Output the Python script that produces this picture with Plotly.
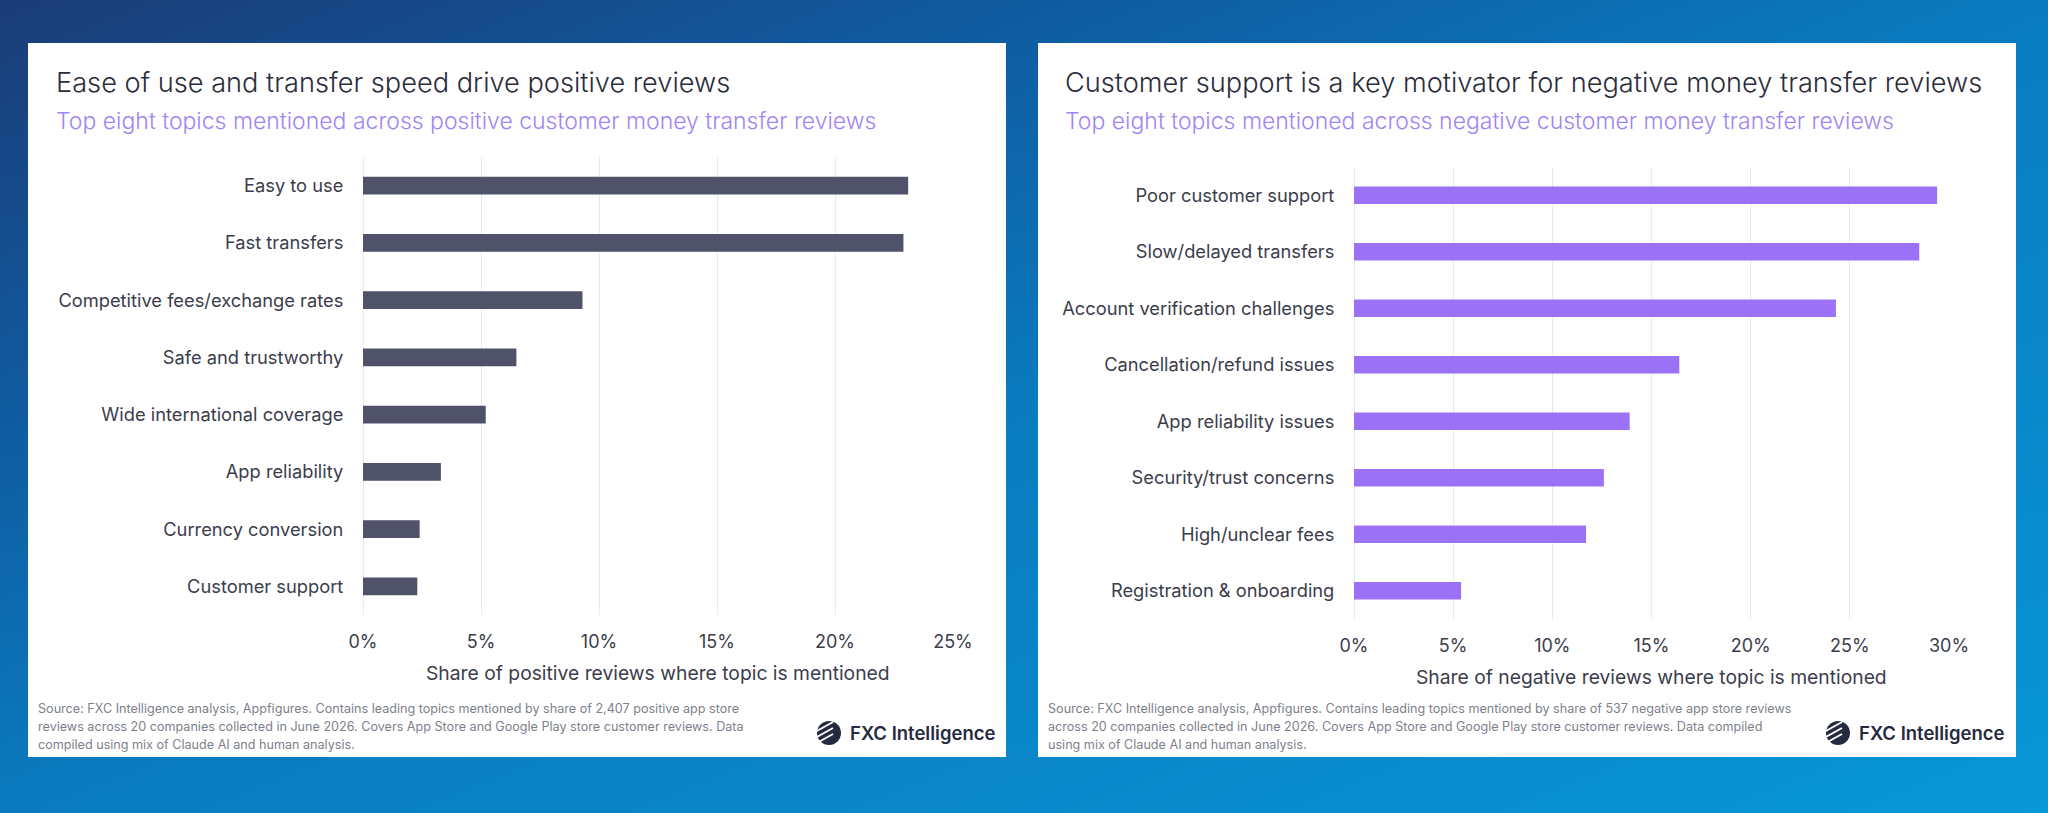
import plotly.graph_objects as go

# ---------------- data ----------------
pos_topics = ["Easy to use", "Fast transfers", "Competitive fees/exchange rates",
              "Safe and trustworthy", "Wide international coverage", "App reliability",
              "Currency conversion", "Customer support"]
pos_share = [23.1, 22.9, 9.3, 6.5, 5.2, 3.3, 2.4, 2.3]

neg_topics = ["Poor customer support", "Slow/delayed transfers", "Account verification challenges",
              "Cancellation/refund issues", "App reliability issues", "Security/trust concerns",
              "High/unclear fees", "Registration & onboarding"]
neg_share = [29.4, 28.5, 24.3, 16.4, 13.9, 12.6, 11.7, 5.4]

pos_ticks = [0, 5, 10, 15, 20, 25]
pos_ticklabels = ["0%", "5%", "10%", "15%", "20%", "25%"]
neg_ticks = [0, 5, 10, 15, 20, 25, 30]
neg_ticklabels = ["0%", "5%", "10%", "15%", "20%", "25%", "30%"]

pos_title = "Ease of use and transfer speed drive positive reviews"
pos_subtitle = "Top eight topics mentioned across positive customer money transfer reviews"
pos_xtitle = "Share of positive reviews where topic is mentioned"
pos_source = ["Source: FXC Intelligence analysis, Appfigures. Contains leading topics mentioned by share of 2,407 positive app store",
              "reviews across 20 companies collected in June 2026. Covers App Store and Google Play store customer reviews. Data",
              "compiled using mix of Claude AI and human analysis."]

neg_title = "Customer support is a key motivator for negative money transfer reviews"
neg_subtitle = "Top eight topics mentioned across negative customer money transfer reviews"
neg_xtitle = "Share of negative reviews where topic is mentioned"
neg_source = ["Source: FXC Intelligence analysis, Appfigures. Contains leading topics mentioned by share of 537 negative app store reviews",
              "across 20 companies collected in June 2026. Covers App Store and Google Play store customer reviews. Data compiled",
              "using mix of Claude AI and human analysis."]

# ---------------- styling ----------------
W, H = 2048, 813
FONT = "Inter"
TXT = "#3b3d4c"
GRID = "#e9e9ef"


def px(x):
    return x / W


def py(y):
    return 1 - y / H


fig = go.Figure()

# background gradient (decoration) on full-paper axes
fig.add_trace(go.Heatmap(
    x=[0, 1], y=[0, 1], z=[[1, 2], [0, 1]], zmin=0, zmax=2, zsmooth="best",
    colorscale=[[0, "#1b3c76"], [0.25, "#105a9f"], [0.5, "#0a7bbf"], [1, "#0897d7"]],
    showscale=False, hoverinfo="skip", xaxis="x", yaxis="y"))

# white cards
for (x0, x1) in [(28, 1006), (1038, 2016)]:
    y0, y1 = 43, 757
    fig.add_trace(go.Scatter(
        x=[px(x0), px(x1), px(x1), px(x0), px(x0)],
        y=[py(y0), py(y0), py(y1), py(y1), py(y0)],
        fill="toself", fillcolor="white", mode="lines", line=dict(width=0),
        hoverinfo="skip", showlegend=False, xaxis="x", yaxis="y"))

# bars
fig.add_trace(go.Bar(x=pos_share, y=pos_topics, orientation="h", width=0.31,
                     marker=dict(color="#4f5269", line=dict(width=0)),
                     xaxis="x2", yaxis="y2", showlegend=False))
fig.add_trace(go.Bar(x=neg_share, y=neg_topics, orientation="h", width=0.31,
                     marker=dict(color="#9b72f6", line=dict(width=0)),
                     xaxis="x3", yaxis="y3", showlegend=False))

hidden = dict(visible=False, showgrid=False, zeroline=False, range=[0, 1], fixedrange=True,
              automargin=False)

xcommon = dict(showgrid=True, gridcolor=GRID, gridwidth=1, zeroline=True, zerolinecolor=GRID,
               zerolinewidth=1, showline=False, ticks="outside", ticklen=10,
               tickcolor="rgba(0,0,0,0)", automargin=False,
               tickfont=dict(family=FONT, size=18, color=TXT))
ycommon = dict(showgrid=False, zeroline=False, showline=False, ticks="outside", ticklen=15,
               tickcolor="rgba(0,0,0,0)", autorange="reversed", type="category",
               automargin=False,
               tickfont=dict(family=FONT, size=18.3, color=TXT))

fig.update_layout(
    width=W, height=H, margin=dict(l=0, r=0, t=0, b=0, autoexpand=False),
    paper_bgcolor="#0a6fb8", plot_bgcolor="rgba(0,0,0,0)",
    showlegend=False,
    xaxis=dict(domain=[0, 1], **hidden),
    yaxis=dict(domain=[0, 1], **hidden),
    xaxis2=dict(domain=[px(363), px(953)], range=[0, 25], tickvals=pos_ticks,
                ticktext=pos_ticklabels, anchor="y2", **xcommon),
    yaxis2=dict(domain=[py(615), py(157)], anchor="x2", **ycommon),
    xaxis3=dict(domain=[px(1354), px(1949)], range=[0, 30], tickvals=neg_ticks,
                ticktext=neg_ticklabels, anchor="y3", **xcommon),
    yaxis3=dict(domain=[py(619), py(167)], anchor="x3", **ycommon),
    bargap=0.69,
)

ann = []


def add_text(x, y, text, size, color, xanchor="left", weight=None):
    f = dict(family=FONT, size=size, color=color)
    if weight:
        f["weight"] = weight
    ann.append(dict(x=px(x), y=py(y), xref="paper", yref="paper", text=text, showarrow=False,
                    xanchor=xanchor, yanchor="middle", font=f))


# left card text
add_text(54, 83, pos_title, 27.2, "#2b2d3b", weight=300)
add_text(54, 121, pos_subtitle, 23, "#a185f2", weight=300)
add_text(658, 673, pos_xtitle, 19.3, TXT, xanchor="center")
for i, line in enumerate(pos_source):
    add_text(36, 708 + 18 * i, line, 12.6, "#7d7f8c")
add_text(848, 733, "FXC Intelligence", 18.5, "#262a40", weight=600)

# right card text
add_text(1063, 83, neg_title, 27.2, "#2b2d3b", weight=300)
add_text(1063, 121, neg_subtitle, 23, "#a185f2", weight=300)
add_text(1651, 677, neg_xtitle, 19.3, TXT, xanchor="center")
for i, line in enumerate(neg_source):
    add_text(1046, 708 + 18 * i, line, 12.6, "#7d7f8c")
add_text(1857, 733, "FXC Intelligence", 18.5, "#262a40", weight=600)

fig.update_layout(annotations=ann)

# logo icons
shapes = []
for cx in [829, 1838]:
    cy = 733
    r = 12
    shapes.append(dict(type="circle", xref="paper", yref="paper",
                       x0=px(cx - r), x1=px(cx + r), y0=py(cy + r), y1=py(cy - r),
                       fillcolor="#262a40", line=dict(width=0), layer="above"))
    for d in [-6, 0, 6]:
        shapes.append(dict(type="line", xref="paper", yref="paper",
                           x0=px(cx - 14), y0=py(cy + d + 5), x1=px(cx + 4), y1=py(cy + d - 5),
                           line=dict(color="white", width=2), layer="above"))
fig.update_layout(shapes=shapes)

fig.write_html("out.html", config={"displayModeBar": False},
               post_script="document.body.style.margin='0';document.body.style.overflow='hidden';")
